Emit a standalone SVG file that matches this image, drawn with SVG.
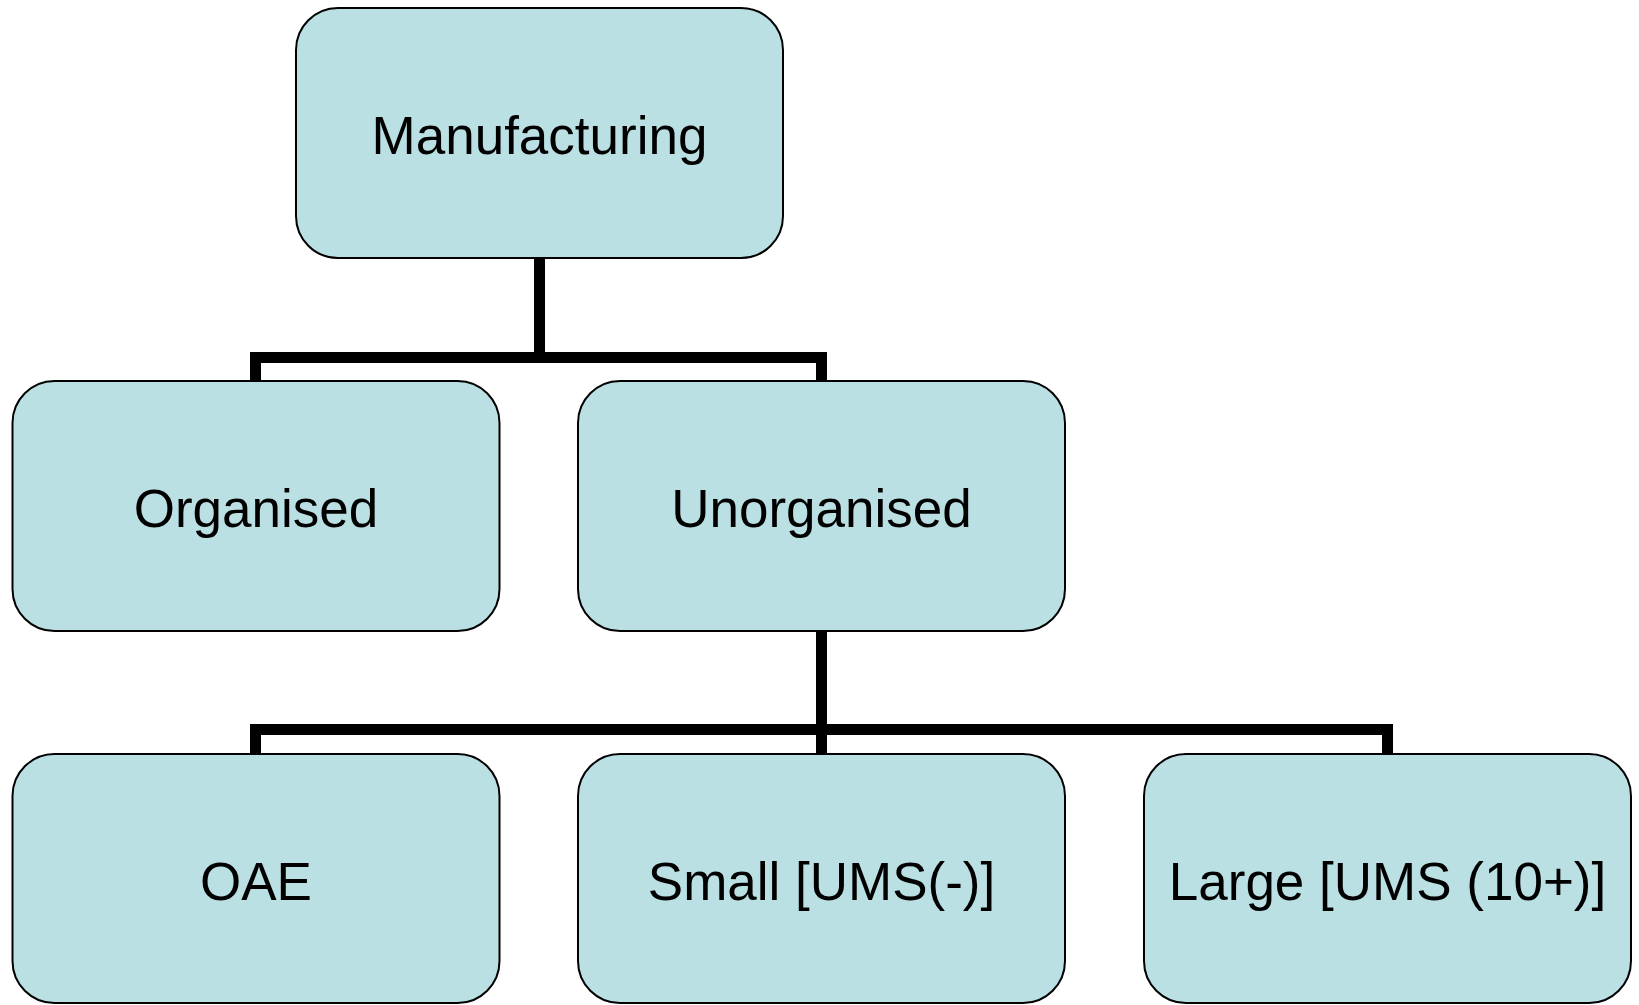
<svg xmlns="http://www.w3.org/2000/svg" width="1639" height="1005" viewBox="0 0 1639 1005">
<style>
.box{fill:#bae0e3;stroke:#000;stroke-width:2}
.lbl{font-family:"Liberation Sans",Arial,sans-serif;font-size:53px;fill:#000;text-anchor:middle}
.conn{fill:none;stroke:#000;stroke-width:11;stroke-linejoin:miter;stroke-linecap:butt}
</style>
<rect width="1639" height="1005" fill="#fff"/>
<g id="connectors">
<path class="conn" d="M539.5,258 V357.5"/>
<path class="conn" d="M255.5,381 V357.5 H821.5 V381"/>
<path class="conn" d="M821.5,631 V754"/>
<path class="conn" d="M255.5,754 V729.5 H1387.5 V754"/>
</g>
<g id="manufacturing">
<rect class="box" x="296" y="8" width="487" height="250" rx="42"/>
<text class="lbl" x="539.5" y="154">Manufacturing</text>
</g>
<g id="organised">
<rect class="box" x="12.5" y="381" width="487" height="250" rx="42"/>
<text class="lbl" x="256" y="527">Organised</text>
</g>
<g id="unorganised">
<rect class="box" x="578" y="381" width="487" height="250" rx="42"/>
<text class="lbl" x="821.5" y="527">Unorganised</text>
</g>
<g id="oae">
<rect class="box" x="12.5" y="754" width="487" height="249" rx="42"/>
<text class="lbl" x="256" y="900">OAE</text>
</g>
<g id="small">
<rect class="box" x="578" y="754" width="487" height="249" rx="42"/>
<text class="lbl" x="821.5" y="900">Small [UMS(-)]</text>
</g>
<g id="large">
<rect class="box" x="1144" y="754" width="487" height="249" rx="42"/>
<text class="lbl" x="1387.5" y="900">Large [UMS (10+)]</text>
</g>
</svg>
